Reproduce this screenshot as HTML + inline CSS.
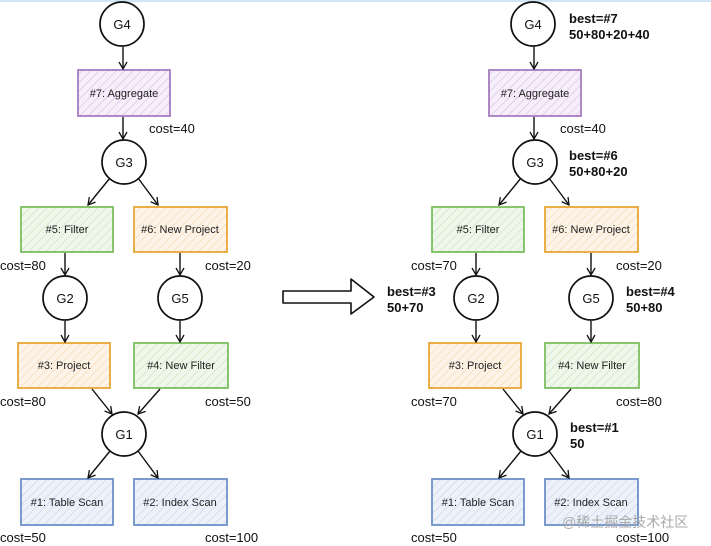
<!DOCTYPE html>
<html><head><meta charset="utf-8"><style>
html,body{margin:0;padding:0;background:#fff;}
svg{display:block;font-family:"Liberation Sans",sans-serif;}
</style></head><body>
<svg width="711" height="546" viewBox="0 0 711 546" xmlns="http://www.w3.org/2000/svg">
<defs>
<pattern id="hp" width="6" height="6" patternUnits="userSpaceOnUse" patternTransform="rotate(45)"><rect width="6" height="6" fill="#f6eefa"/><line x1="0" y1="0" x2="0" y2="6" stroke="#d2b8e0" stroke-width="1"/></pattern>
<pattern id="hg" width="6" height="6" patternUnits="userSpaceOnUse" patternTransform="rotate(45)"><rect width="6" height="6" fill="#eef7ea"/><line x1="0" y1="0" x2="0" y2="6" stroke="#bfe0b0" stroke-width="1"/></pattern>
<pattern id="ho" width="6" height="6" patternUnits="userSpaceOnUse" patternTransform="rotate(45)"><rect width="6" height="6" fill="#fdf3e6"/><line x1="0" y1="0" x2="0" y2="6" stroke="#f3d2a8" stroke-width="1"/></pattern>
<pattern id="hb" width="6" height="6" patternUnits="userSpaceOnUse" patternTransform="rotate(45)"><rect width="6" height="6" fill="#edf2fa"/><line x1="0" y1="0" x2="0" y2="6" stroke="#bccde8" stroke-width="1"/></pattern>
<marker id="ar" markerWidth="10" markerHeight="10" refX="8" refY="5" orient="auto" markerUnits="userSpaceOnUse"><path d="M1,1 L8,5 L1,9" fill="none" stroke="#111" stroke-width="1.3"/></marker>
<g id="tree">
 <g stroke="#111" stroke-width="1.7" fill="none">
  <circle cx="122" cy="24" r="22"/>
  <circle cx="124" cy="162" r="22"/>
  <circle cx="65" cy="298" r="22"/>
  <circle cx="180" cy="298" r="22"/>
  <circle cx="124" cy="434" r="22"/>
 </g>
 <rect x="78" y="70" width="92" height="46" fill="url(#hp)" stroke="#a57cc0" stroke-width="1.8"/>
 <rect x="21" y="207" width="92" height="45" fill="url(#hg)" stroke="#7cbf60" stroke-width="1.8"/>
 <rect x="134" y="207" width="93" height="45" fill="url(#ho)" stroke="#e7a634" stroke-width="1.8"/>
 <rect x="18" y="343" width="92" height="45" fill="url(#ho)" stroke="#e7a634" stroke-width="1.8"/>
 <rect x="134" y="343" width="94" height="45" fill="url(#hg)" stroke="#7cbf60" stroke-width="1.8"/>
 <rect x="21" y="479" width="92" height="46" fill="url(#hb)" stroke="#6d90c8" stroke-width="1.8"/>
 <rect x="134" y="479" width="93" height="46" fill="url(#hb)" stroke="#6d90c8" stroke-width="1.8"/>
 <g stroke="#111" stroke-width="1.4" fill="none" marker-end="url(#ar)">
  <line x1="123" y1="47" x2="123" y2="69"/>
  <line x1="123" y1="117" x2="123" y2="139"/>
  <line x1="110" y1="178" x2="88" y2="205"/>
  <line x1="138" y1="178" x2="158" y2="205"/>
  <line x1="65" y1="253" x2="65" y2="275"/>
  <line x1="180" y1="253" x2="180" y2="275"/>
  <line x1="65" y1="321" x2="65" y2="342"/>
  <line x1="180" y1="321" x2="180" y2="342"/>
  <line x1="92" y1="389" x2="112" y2="414"/>
  <line x1="160" y1="389" x2="138" y2="414"/>
  <line x1="110" y1="451" x2="88" y2="478"/>
  <line x1="138" y1="451" x2="158" y2="478"/>
 </g>
 <g font-size="13" fill="#111" text-anchor="middle">
  <text x="122" y="29">G4</text><text x="124" y="167">G3</text>
  <text x="65" y="303">G2</text><text x="180" y="303">G5</text>
  <text x="124" y="439">G1</text>
 </g>
 <g font-size="11" fill="#222" text-anchor="middle">
  <text x="124" y="97">#7: Aggregate</text>
  <text x="67" y="233">#5: Filter</text>
  <text x="180" y="233">#6: New Project</text>
  <text x="64" y="369">#3: Project</text>
  <text x="181" y="369">#4: New Filter</text>
  <text x="67" y="506">#1: Table Scan</text>
  <text x="180" y="506">#2: Index Scan</text>
 </g>
</g>
</defs>
<rect x="0" y="0" width="711" height="2" fill="#cfe6f5"/>
<use href="#tree"/>
<use href="#tree" x="411"/>
<g font-size="13" fill="#111">
 <text x="149" y="133">cost=40</text>
 <text x="0" y="270">cost=80</text><text x="205" y="270">cost=20</text>
 <text x="0" y="406">cost=80</text><text x="205" y="406">cost=50</text>
 <text x="0" y="542">cost=50</text><text x="205" y="542">cost=100</text>
 <text x="560" y="133">cost=40</text>
 <text x="411" y="270">cost=70</text><text x="616" y="270">cost=20</text>
 <text x="411" y="406">cost=70</text><text x="616" y="406">cost=80</text>
 <text x="411" y="542">cost=50</text><text x="616" y="542">cost=100</text>
</g>
<g font-size="13" font-weight="bold" fill="#111">
 <text x="569" y="23">best=#7</text><text x="569" y="39">50+80+20+40</text>
 <text x="569" y="160">best=#6</text><text x="569" y="176">50+80+20</text>
 <text x="387" y="296">best=#3</text><text x="387" y="312">50+70</text>
 <text x="626" y="296">best=#4</text><text x="626" y="312">50+80</text>
 <text x="570" y="432">best=#1</text><text x="570" y="448">50</text>
</g>
<path d="M283,291 L351,291 L351,279 L374,297 L351,314 L351,303 L283,303 Z" fill="#fff" stroke="#111" stroke-width="1.6" stroke-linejoin="round"/>
<text x="562" y="527" font-size="14" fill="#aaa" font-family="'Liberation Sans','Noto Sans CJK SC',sans-serif">@稀土掘金技术社区</text>
</svg>
</body></html>
